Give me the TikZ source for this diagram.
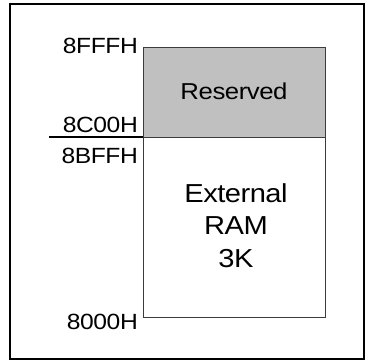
\documentclass[tikz,border=0pt]{standalone}
\usepackage{fontspec}
\setmainfont{Liberation Sans}[FakeStretch=1.12,LetterSpace=-2]
\usetikzlibrary{positioning}
\definecolor{resgray}{RGB}{192,192,192}
\definecolor{boxline}{RGB}{60,60,60}

\tikzset{
  addr/.style={anchor=base east,inner sep=0pt,font=\fontsize{22}{26}\selectfont},
  region/.style={draw=boxline,line width=0.8pt,minimum width=182pt,inner sep=0pt,anchor=north west}
}

\begin{document}
\begin{tikzpicture}[x=1pt,y=-1pt]

\useasboundingbox (0,0) rectangle (365,360);

%% frame
\draw [line width=1.6pt] (10,4) rectangle (364,359);

%% memory regions
\node [region,fill=resgray,minimum height=90pt] (reserved) at (143,47) {};
\node [region,minimum height=180pt] (extram) at (143,137) {};
\node [font=\fontsize{23}{27}\selectfont,anchor=base] (reslabel) at (234,99) {Reserved};
\node [font=\fontsize{26}{32.5}\selectfont,align=center,anchor=base] (ramlabel) at (236,267) {External\\RAM\\3K};

%% addresses
\node [addr] (top) at (138,53) {8FFFH};
\node [addr] (resbase) at (138,132) {8C00H};
\node [addr] (ramtop) at (138,163) {8BFFH};
\node [addr] (bottom) at (138,329) {8000H};

% underline at the boundary
\draw [line width=1.3pt] (49,137) -- (extram.north west);

\end{tikzpicture}
\end{document}
